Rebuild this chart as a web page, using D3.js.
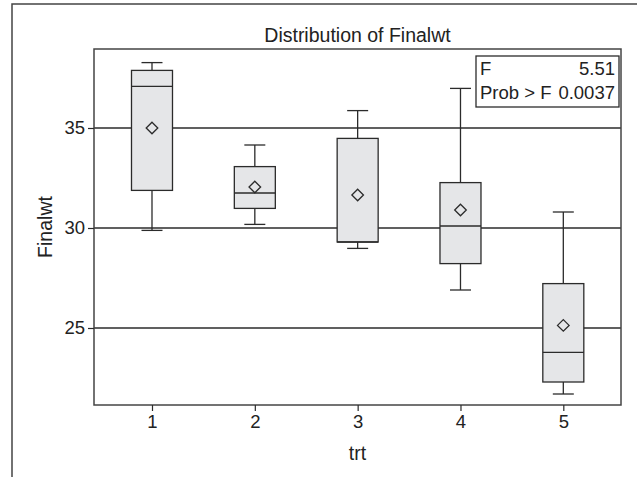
<!DOCTYPE html>
<html>
<head>
<meta charset="utf-8">
<script src="https://cdn.jsdelivr.net/npm/d3@7"></script>
<style>
  body { margin: 0; background: #fff; }
  svg { display: block; font-family: "Liberation Sans", Arial, sans-serif; }
</style>
</head>
<body>
<div id="chart"></div>
<script>
// box plot of Finalwt by trt
const trt = [1, 2, 3, 4, 5]
const whiskerLow = [29.88, 30.18, 28.98, 26.9, 21.7]
const q1 = [31.88, 30.98, 29.3, 28.22, 22.3]
const median = [37.08, 31.75, 29.3, 30.1, 23.78]
const q3 = [37.88, 33.07, 34.48, 32.27, 27.22]
const whiskerHigh = [38.27, 34.15, 35.87, 36.98, 30.8]
const means = [35.0, 32.05, 31.65, 30.9, 25.13]
const yTicks = [25, 30, 35]
const statRows = [["F", "5.51"], ["Prob > F", "0.0037"]]

let width = 637
let height = 477
let plot = { left: 94, top: 49, right: 621, bottom: 405 }
let ink = "#2b2b2b"

var svg = d3.select("#chart")
    .append("svg")
    .attr("width", width)
    .attr("height", height)

// outer frame (only top and left show)
svg.append("path")
    .attr("d", "M12," + height + "V4H" + width)
    .attr("fill", "none")
    .attr("stroke", "#444")
    .attr("stroke-width", 1.5)

var x = d3.scaleLinear().domain([0.436, 5.561]).range([plot.left, plot.right])
var y = d3.scaleLinear().domain([21.15, 38.95]).range([plot.bottom, plot.top])

// reference lines
svg.selectAll(".grid")
    .data(yTicks)
    .enter()
    .append("line")
    .attr("x1", plot.left)
    .attr("x2", plot.right)
    .attr("y1", d => y(d))
    .attr("y2", d => y(d))
    .attr("stroke", ink)
    .attr("stroke-width", 1.3)

let boxW = 41
let capW = 21
var boxes = trt.map((t, i) => ({ t: t, lo: whiskerLow[i], q1: q1[i], med: median[i], q3: q3[i], hi: whiskerHigh[i], mean: means[i] }))

var g = svg.selectAll(".box")
    .data(boxes)
    .enter()
    .append("g")

// whiskers
g.append("line")
    .attr("x1", d => x(d.t)).attr("x2", d => x(d.t))
    .attr("y1", d => y(d.hi)).attr("y2", d => y(d.q3))
    .attr("stroke", ink).attr("stroke-width", 1.3)
g.append("line")
    .attr("x1", d => x(d.t)).attr("x2", d => x(d.t))
    .attr("y1", d => y(d.q1)).attr("y2", d => y(d.lo))
    .attr("stroke", ink).attr("stroke-width", 1.3)
g.append("line")
    .attr("x1", d => x(d.t) - capW / 2).attr("x2", d => x(d.t) + capW / 2)
    .attr("y1", d => y(d.hi)).attr("y2", d => y(d.hi))
    .attr("stroke", ink).attr("stroke-width", 1.3)
g.append("line")
    .attr("x1", d => x(d.t) - capW / 2).attr("x2", d => x(d.t) + capW / 2)
    .attr("y1", d => y(d.lo)).attr("y2", d => y(d.lo))
    .attr("stroke", ink).attr("stroke-width", 1.3)

// box
g.append("rect")
    .attr("x", d => x(d.t) - boxW / 2)
    .attr("width", boxW)
    .attr("y", d => y(d.q3))
    .attr("height", d => y(d.q1) - y(d.q3))
    .attr("fill", "#e5e6e8")
    .attr("stroke", ink)
    .attr("stroke-width", 1.3)

// median
g.append("line")
    .attr("x1", d => x(d.t) - boxW / 2).attr("x2", d => x(d.t) + boxW / 2)
    .attr("y1", d => y(d.med)).attr("y2", d => y(d.med))
    .attr("stroke", ink).attr("stroke-width", 1.3)

// mean diamond
g.append("path")
    .attr("d", d => {
        let cx = x(d.t), cy = y(d.mean), r = 5.8
        return "M" + cx + "," + (cy - r) + "L" + (cx + r) + "," + cy + "L" + cx + "," + (cy + r) + "L" + (cx - r) + "," + cy + "Z"
    })
    .attr("fill", "none")
    .attr("stroke", ink)
    .attr("stroke-width", 1.3)

// plot frame
svg.append("rect")
    .attr("x", plot.left).attr("y", plot.top)
    .attr("width", plot.right - plot.left)
    .attr("height", plot.bottom - plot.top)
    .attr("fill", "none")
    .attr("stroke", "#444")
    .attr("stroke-width", 1.5)

// axes
var yAxis = d3.axisLeft(y).tickValues(yTicks).tickSize(6).tickPadding(3)
var xAxis = d3.axisBottom(x).tickValues(trt).tickSize(6).tickPadding(4).tickFormat(d3.format("d"))

var ya = svg.append("g").attr("transform", "translate(" + plot.left + ",0)").call(yAxis)
var xa = svg.append("g").attr("transform", "translate(0," + plot.bottom + ")").call(xAxis)
ya.select(".domain").remove()
xa.select(".domain").remove()
svg.selectAll(".tick line").attr("stroke", ink).attr("stroke-width", 1.2)
svg.selectAll(".tick text")
    .attr("fill", "#222")
    .style("font-size", "18.5px")
    .style("font-family", "'Liberation Sans', Arial, sans-serif")

// titles
svg.append("text")
    .attr("x", (plot.left + plot.right) / 2)
    .attr("y", 42)
    .attr("text-anchor", "middle")
    .style("font-size", "19.5px")
    .attr("fill", "#222")
    .text("Distribution of Finalwt")

svg.append("text")
    .attr("x", (plot.left + plot.right) / 2)
    .attr("y", 460)
    .attr("text-anchor", "middle")
    .style("font-size", "19.5px")
    .attr("fill", "#222")
    .text("trt")

svg.append("text")
    .attr("transform", "translate(52," + (plot.top + plot.bottom) / 2 + ") rotate(-90)")
    .attr("text-anchor", "middle")
    .style("font-size", "19.5px")
    .attr("fill", "#222")
    .text("Finalwt")

// stats inset
let inset = { left: 476, top: 56, right: 619, bottom: 107 }
svg.append("rect")
    .attr("x", inset.left).attr("y", inset.top)
    .attr("width", inset.right - inset.left)
    .attr("height", inset.bottom - inset.top)
    .attr("fill", "#fff")
    .attr("stroke", ink)
    .attr("stroke-width", 1.3)

statRows.forEach((row, i) => {
    let by = inset.top + 19 + i * 24
    svg.append("text")
        .attr("x", inset.left + 4).attr("y", by)
        .style("font-size", "18.5px").attr("fill", "#222")
        .text(row[0])
    svg.append("text")
        .attr("x", inset.right - 4).attr("y", by)
        .attr("text-anchor", "end")
        .style("font-size", "18.5px").attr("fill", "#222")
        .text(row[1])
})
</script>
</body>
</html>
